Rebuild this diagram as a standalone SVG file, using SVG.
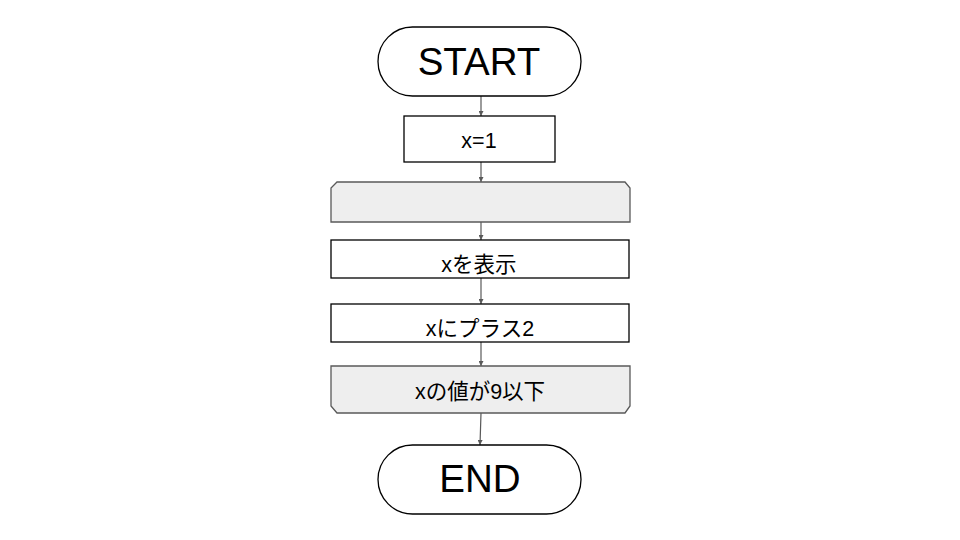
<svg xmlns="http://www.w3.org/2000/svg" width="960" height="540" viewBox="0 0 960 540">
<defs>
<style>
.box{fill:#ffffff;stroke:#000000;stroke-width:1.3}
.loop{fill:#eeeeee;stroke:#595959;stroke-width:1.3}
.big{font-family:"Liberation Sans","Noto Sans CJK JP",sans-serif;font-size:38.5px;fill:#000;text-anchor:middle}
.lbl{font-family:"Liberation Sans","Noto Sans CJK JP",sans-serif;font-size:21.5px;fill:#000;text-anchor:middle}
.conn{stroke:#595959;stroke-width:1.2;fill:none;marker-end:url(#arr)}
</style>
<marker id="arr" viewBox="0 0 10 10" refX="10" refY="5" markerWidth="5" markerHeight="5" markerUnits="userSpaceOnUse" orient="auto">
<path d="M0,0 L10,5 L0,10 z" fill="#595959"/>
</marker>
</defs>
<rect width="960" height="540" fill="#ffffff"/>
<g id="connectors">
<line class="conn" x1="481" y1="96" x2="481" y2="116"/>
<line class="conn" x1="481" y1="162" x2="481" y2="182"/>
<line class="conn" x1="481" y1="222" x2="481" y2="240"/>
<line class="conn" x1="481" y1="278" x2="481" y2="304"/>
<line class="conn" x1="481" y1="342" x2="481" y2="366"/>
<line class="conn" x1="481" y1="413" x2="480" y2="445"/>
</g>
<g id="start">
<rect class="box" x="378" y="27" width="203" height="69" rx="34.5" ry="34.5"/>
<text class="big" x="479" y="75">START</text>
</g>
<g id="init">
<rect class="box" x="404" y="116" width="151" height="46"/>
<text class="lbl" x="479" y="148">x=1</text>
</g>
<g id="loopstart">
<path class="loop" d="M337,182 L625,182 L630,188 L630,222 L331,222 L331,188 Z"/>
</g>
<g id="show">
<rect class="box" x="331" y="240" width="298" height="38"/>
<text class="lbl" x="479" y="272">xを表示</text>
</g>
<g id="plus">
<rect class="box" x="331" y="304" width="298" height="38"/>
<text class="lbl" x="480" y="336">xにプラス2</text>
</g>
<g id="loopend">
<path class="loop" d="M331,366 L630,366 L630,406 L625,413 L337,413 L331,406 Z"/>
<text class="lbl" x="480" y="399">xの値が9以下</text>
</g>
<g id="end">
<rect class="box" x="378" y="445" width="203" height="69" rx="34.5" ry="34.5"/>
<text class="big" x="480" y="492">END</text>
</g>
</svg>
